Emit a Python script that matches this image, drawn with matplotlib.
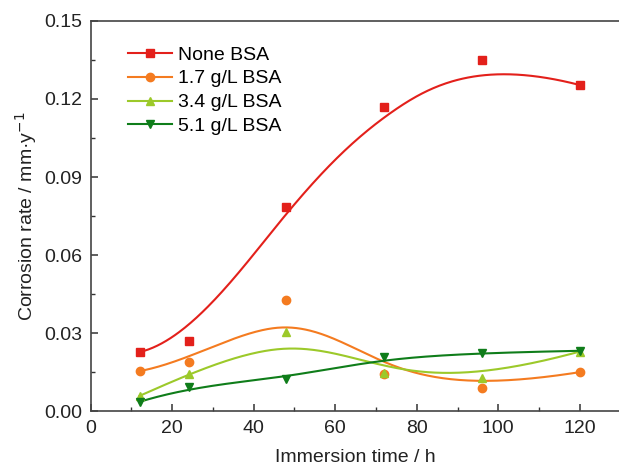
import numpy as np
import matplotlib
matplotlib.use("Agg")
import matplotlib.pyplot as plt
from matplotlib.ticker import MultipleLocator, FormatStrFormatter

plt.rcParams['font.family'] = ['Liberation Sans', 'DejaVu Sans']

time_h = [12, 24, 48, 72, 96, 120]
none_bsa = [0.0228, 0.0272, 0.0783, 0.1170, 0.1350, 0.1253]
bsa_17 = [0.0155, 0.0190, 0.0429, 0.0143, 0.0092, 0.0151]
bsa_34 = [0.0060, 0.0143, 0.0306, 0.0149, 0.0128, 0.0230]
bsa_51 = [0.0037, 0.0095, 0.0126, 0.0208, 0.0225, 0.0233]

labels = ["None BSA", "1.7 g/L BSA", "3.4 g/L BSA", "5.1 g/L BSA"]
series = [none_bsa, bsa_17, bsa_34, bsa_51]
colors = ["#e3201b", "#f47b20", "#9cc92a", "#0f7d1a"]
markers = ["s", "o", "^", "v"]


def bspline(xs, ys, k=3, n=300):
    """Clamped uniform B-spline using the data points as control points."""
    P = np.column_stack([xs, ys]).astype(float)
    m = len(P)
    inner = np.arange(1, m - k)
    t = np.concatenate([np.zeros(k + 1), inner, np.full(k + 1, m - k)]).astype(float)
    us = np.linspace(0, m - k, n)

    def basis(i, p, u):
        if p == 0:
            if t[i] <= u < t[i + 1] or (u == t[-1] and t[i] < u <= t[i + 1]):
                return 1.0
            return 0.0
        a = 0.0
        if t[i + p] != t[i]:
            a = (u - t[i]) / (t[i + p] - t[i]) * basis(i, p - 1, u)
        b = 0.0
        if t[i + p + 1] != t[i + 1]:
            b = (t[i + p + 1] - u) / (t[i + p + 1] - t[i + 1]) * basis(i + 1, p - 1, u)
        return a + b

    out = np.array([[sum(basis(i, k, u) * P[i, j] for i in range(m)) for j in range(2)] for u in us])
    return out[:, 0], out[:, 1]


fig = plt.figure(figsize=(6.19, 4.70), dpi=100)
ax = fig.add_axes([0.1465, 0.1245, 0.856, 0.8315])

for ys, lab, c, mk in zip(series, labels, colors, markers):
    cx, cy = bspline(time_h, ys)
    ax.plot(cx, cy, color=c, lw=1.5, zorder=2)
    ax.plot(time_h, ys, ls='none', marker=mk, color=c, ms=6, zorder=3)
    ax.plot([], [], color=c, lw=1.5, marker=mk, ms=6, label=lab)

ax.set_xlim(0, 130)
ax.set_ylim(0, 0.15)
ax.xaxis.set_major_locator(MultipleLocator(20))
ax.xaxis.set_minor_locator(MultipleLocator(10))
ax.yaxis.set_major_locator(MultipleLocator(0.03))
ax.yaxis.set_minor_locator(MultipleLocator(0.015))
ax.yaxis.set_major_formatter(FormatStrFormatter('%.2f'))
ax.tick_params(which='major', direction='in', length=5, width=1.1, labelsize=14, pad=6, colors='#333333', labelcolor='#222222')
ax.tick_params(which='minor', direction='in', length=3, width=1.0, colors='#333333')
ax.tick_params(axis='x', which='both', top=False)
ax.tick_params(axis='y', which='both', right=False)
for s in ax.spines.values():
    s.set_linewidth(1.2)
    s.set_color('#444444')

ax.set_xlabel("Immersion time / h", fontsize=14, color='#222222', labelpad=9)
ax.set_ylabel("Corrosion rate / mm\u00b7y$^{-1}$", fontsize=14, color='#222222', labelpad=4)

leg = ax.legend(loc='upper left', bbox_to_anchor=(0.055, 0.955), frameon=False,
                fontsize=14, handlelength=2.3, handletextpad=0.3, labelspacing=0.32,
                borderaxespad=0)

fig.savefig("out.png", dpi=100, facecolor='white')
